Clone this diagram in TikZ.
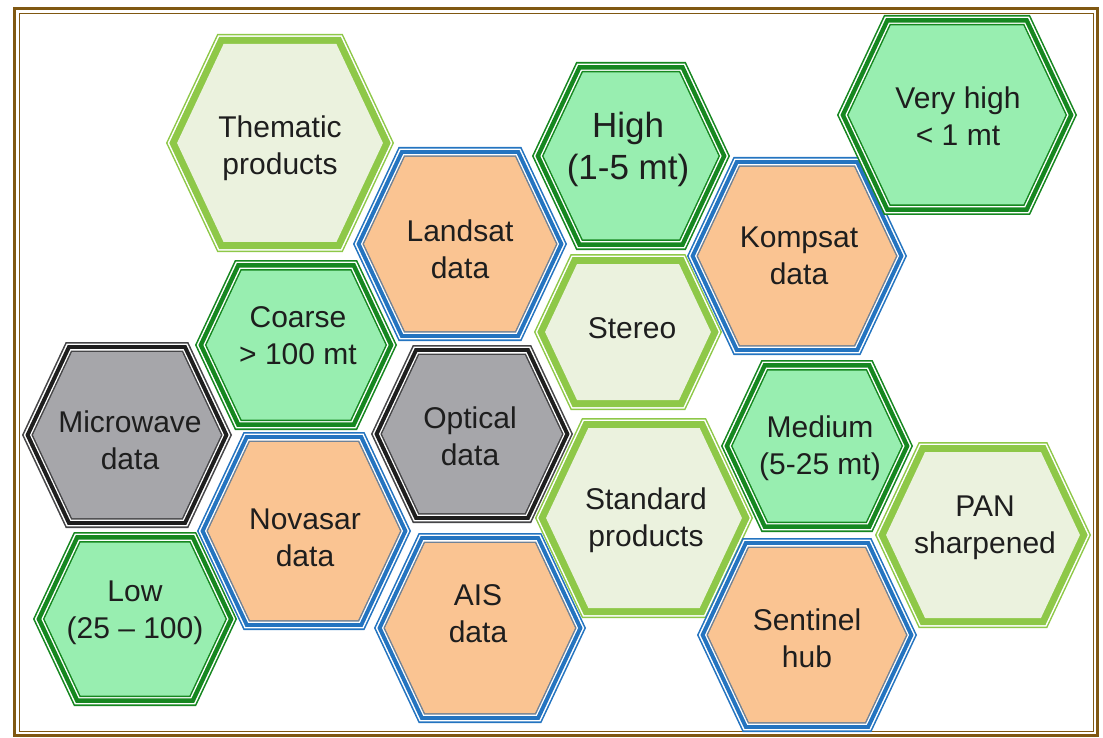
\documentclass[tikz,border=0pt]{standalone}
\usepackage{fontspec}
\setmainfont{Liberation Sans}

\definecolor{framebrown}{RGB}{128,88,18}
\definecolor{hexgreen}{RGB}{22,135,32}
\definecolor{mintfill}{RGB}{152,238,176}
\definecolor{hexlime}{RGB}{142,200,72}
\definecolor{limefill}{RGB}{235,242,222}
\definecolor{hexblue}{RGB}{36,116,192}
\definecolor{bluegray}{RGB}{112,130,150}
\definecolor{orangefill}{RGB}{250,196,146}
\definecolor{hexblack}{RGB}{30,30,30}
\definecolor{hexdark}{RGB}{70,70,72}
\definecolor{grayfill}{RGB}{166,166,170}
\definecolor{textgray}{RGB}{30,30,30}

% one filled hexagon: centre, half width, half height, inset d, colour
\newcommand{\hexlayer}[6]{%
  \pgfmathsetmacro\hw{#3-1.105*#5}%
  \pgfmathsetmacro\hh{#4-#5}%
  \pgfmathsetmacro\hi{0.47*\hh}%
  \fill[#6] ({#1-\hw},#2) -- ({#1-\hw+\hi},{#2-\hh}) -- ({#1+\hw-\hi},{#2-\hh})
    -- ({#1+\hw},#2) -- ({#1+\hw-\hi},{#2+\hh}) -- ({#1-\hw+\hi},{#2+\hh}) -- cycle;}

% border layers (inset/colour) for each kind of cell
\newcommand{\greenlayers}{0/hexgreen,1.6/white,3.1/hexgreen,7.6/white,9/hexgreen,10.5/mintfill}
\newcommand{\limelayers}{0/hexlime,1.5/white,3/hexlime,10/limefill}
\newcommand{\bluelayers}{0/hexblue,1.6/white,3.1/hexblue,7.2/white,8.5/bluegray,10/orangefill}
\newcommand{\graylayers}{0/hexdark,1.6/white,3.1/hexblack,7.2/white,8.5/hexdark,10/grayfill}

\newcommand{\hexcell}[5]{\foreach \d/\c in #1 {\hexlayer{#2}{#3}{#4}{#5}{\d}{\c}}}

\begin{document}
\begin{tikzpicture}[x=1pt,y=-1pt,
  celltext/.style={align=center, inner sep=0pt, text=textgray,
    font=\fontsize{30}{37}\selectfont},
  bigtext/.style={celltext, font=\fontsize{35}{42}\selectfont}]
  \useasboundingbox (0,0) rectangle (1103,738);

  % frame
  \draw[framebrown, line width=3.5pt] (14.5,8.5) rectangle (1097.5,735.5);
  \draw[framebrown, line width=1pt] (19.5,13.5) rectangle (1093,731);

  % hexagons
  \hexcell{\limelayers}{280}{143}{114}{109}
  \node[celltext] (thematic) at (280,148) {Thematic\\products};

  \hexcell{\bluelayers}{460}{244}{107}{97}
  \node[celltext] (landsat) at (460,249) {Landsat\\data};

  \hexcell{\greenlayers}{631}{156}{99}{94}
  \node[bigtext] (high) at (628,149) {High\\(1-5 mt)};

  \hexcell{\bluelayers}{797}{256}{110}{99}
  \node[celltext] (kompsat) at (799,256) {Kompsat\\data};

  \hexcell{\greenlayers}{957}{115}{120}{100}
  \node[celltext] (veryhigh) at (958,116) {Very high\\< 1 mt};

  \hexcell{\greenlayers}{296}{345}{101}{85}
  \node[celltext] (coarse) at (298,336) {Coarse\\> 100 mt};

  \hexcell{\limelayers}{628}{332}{94}{78}
  \node[celltext] (stereo) at (632,328) {Stereo};

  \hexcell{\graylayers}{127}{435}{105}{93}
  \node[celltext] (microwave) at (130,440) {Microwave\\data};

  \hexcell{\graylayers}{472}{434}{101}{89}
  \node[celltext] (optical) at (470,436) {Optical\\data};

  \hexcell{\greenlayers}{817}{446}{96}{86}
  \node[celltext] (medium) at (820,448) {Medium\\(5-25 mt)};

  \hexcell{\bluelayers}{304}{531}{107}{99}
  \node[celltext] (novasar) at (305,538) {Novasar\\data};

  \hexcell{\limelayers}{644}{518}{109}{100}
  \node[celltext] (standard) at (646,520) {Standard\\products};

  \hexcell{\limelayers}{983}{535}{108}{93}
  \node[celltext] (pan) at (985,528) {PAN\\sharpened};

  \hexcell{\greenlayers}{135}{619}{102}{87}
  \node[celltext] (low) at (135,613) {Low\\(25 -- 100)};

  \hexcell{\bluelayers}{480}{628}{106}{95}
  \node[celltext] (ais) at (478,614) {AIS\\data};

  \hexcell{\bluelayers}{807}{635}{110}{97}
  \node[celltext] (sentinel) at (807,638) {Sentinel\\hub};
\end{tikzpicture}
\end{document}
